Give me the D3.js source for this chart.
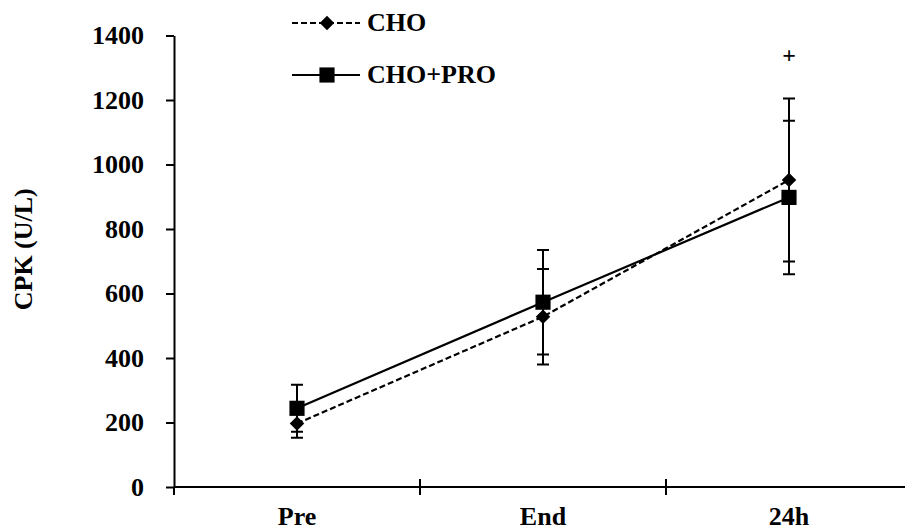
<!DOCTYPE html>
<html>
<head>
<meta charset="utf-8">
<script src="https://cdn.jsdelivr.net/npm/d3@7"></script>
<style>
  body { margin: 0; background: #fff; }
  svg text { font-family: "Liberation Serif", "Times New Roman", serif; font-weight: bold; fill: #000; }
</style>
</head>
<body>
<div id="chart"></div>
<script>
// data
const categories = ["Pre", "End", "24h"];
const choValues = [197, 528, 952];
const choErrors = [44, 148, 253];
const choProValues = [244, 573, 898];
const choProErrors = [73, 162, 238];
const yTicks = [0, 200, 400, 600, 800, 1000, 1200, 1400];
const seriesNames = ["CHO", "CHO+PRO"];
const markNote = {category: "24h", value: 1342, text: "+"};

const width = 905, height = 531;
const fontSize = "26px";

const svg = d3.select("#chart").append("svg")
    .attr("width", width)
    .attr("height", height);

// scales
const x = d3.scaleBand()
    .domain(categories)
    .range([174, 912])
    .paddingInner(0).paddingOuter(0);

const y = d3.scaleLinear()
    .domain([0, 1400])
    .range([487, 35.5]);

const cx = d => x(d) + x.bandwidth() / 2;

// == Y axis == //
const yAxis = d3.axisLeft(y)
    .tickValues(yTicks)
    .tickFormat(d3.format("d"))
    .tickSize(8)
    .tickPadding(22)
    .tickSizeOuter(0);

const yg = svg.append("g")
    .attr("transform", `translate(${x.range()[0]},0)`)
    .call(yAxis);
yg.select(".domain").attr("stroke", "#000").attr("stroke-width", 2);
yg.selectAll(".tick line").attr("stroke", "#000").attr("stroke-width", 2);
yg.selectAll(".tick text")
    .style("font-size", fontSize)
    .style("font-family", "'Liberation Serif', serif")
    .style("font-weight", "bold");

// == X axis (ticks on category boundaries, crossing the line) == //
const xg = svg.append("g").attr("class", "x-axis");
xg.append("line")
    .attr("x1", x.range()[0]).attr("x2", x.range()[1])
    .attr("y1", y(0)).attr("y2", y(0))
    .attr("stroke", "#000").attr("stroke-width", 2);

xg.selectAll(".xtick")
    .data(categories)
    .enter().append("line")
    .attr("class", "xtick")
    .attr("x1", d => x(d)).attr("x2", d => x(d))
    .attr("y1", (d, i) => i === 0 ? y(0) : y(0) - 8)
    .attr("y2", y(0) + 8)
    .attr("stroke", "#000").attr("stroke-width", 2);

xg.selectAll(".xlabel")
    .data(categories)
    .enter().append("text")
    .attr("class", "xlabel")
    .attr("x", d => cx(d))
    .attr("y", 525)
    .attr("text-anchor", "middle")
    .style("font-size", fontSize)
    .text(d => d);

// y title
svg.append("text")
    .attr("transform", `translate(32, ${(y(0) + y(1400)) / 2 - 12}) rotate(-90)`)
    .attr("text-anchor", "middle")
    .style("font-size", fontSize)
    .text("CPK (U/L)");

// == Series == //
const series = [
    {name: seriesNames[0], values: choValues, errors: choErrors, dash: "6,3", marker: "diamond"},
    {name: seriesNames[1], values: choProValues, errors: choProErrors, dash: null, marker: "square"}
];

const line = d3.line()
    .x(d => cx(d.cat))
    .y(d => y(d.v));

series.forEach(s => {
    s.points = categories.map((c, i) => ({cat: c, v: s.values[i], e: s.errors[i]}));
});

// lines
series.forEach(s => {
    svg.append("path")
        .datum(s.points)
        .attr("d", line)
        .attr("fill", "none")
        .attr("stroke", "#000")
        .attr("stroke-width", 2.2)
        .attr("stroke-dasharray", s.dash);
});

// error bars
series.forEach(s => {
    const g = svg.append("g").attr("class", "err");
    g.selectAll(".bar")
        .data(s.points)
        .enter().append("path")
        .attr("d", d => {
            const px = cx(d.cat), hi = y(d.v + d.e), lo = y(d.v - d.e);
            return `M${px},${hi}V${lo}M${px - 6},${hi}H${px + 6}M${px - 6},${lo}H${px + 6}`;
        })
        .attr("fill", "none")
        .attr("stroke", "#000")
        .attr("stroke-width", 2);
});

// markers
const diamond = d3.symbol().type(d3.symbolDiamond2).size(135);
const square = d3.symbol().type(d3.symbolSquare).size(230);

function drawMarker(sel, type) {
    sel.append("path")
        .attr("d", type === "diamond" ? diamond() : square())
        .attr("fill", "#000");
}

series.forEach(s => {
    svg.append("g").selectAll(".m")
        .data(s.points)
        .enter().append("g")
        .attr("transform", d => `translate(${cx(d.cat)},${y(d.v)})`)
        .each(function() { drawMarker(d3.select(this), s.marker); });
});

// significance mark
svg.append("text")
    .attr("x", cx(markNote.category))
    .attr("y", y(markNote.value))
    .attr("dy", "0.35em")
    .attr("text-anchor", "middle")
    .style("font-size", "24px")
    .text(markNote.text);

// == Legend == //
const legend = svg.append("g").attr("class", "legend");
const legendRows = [
    {s: series[0], y: 23},
    {s: series[1], y: 75}
];
legendRows.forEach(r => {
    legend.append("line")
        .attr("x1", 292).attr("x2", 360)
        .attr("y1", r.y).attr("y2", r.y)
        .attr("stroke", "#000").attr("stroke-width", 2.2)
        .attr("stroke-dasharray", r.s.dash);
    const mg = legend.append("g").attr("transform", `translate(327,${r.y})`);
    drawMarker(mg, r.s.marker);
    legend.append("text")
        .attr("x", 367)
        .attr("y", r.y + 8)
        .style("font-size", fontSize)
        .text(r.s.name);
});
</script>
</body>
</html>
